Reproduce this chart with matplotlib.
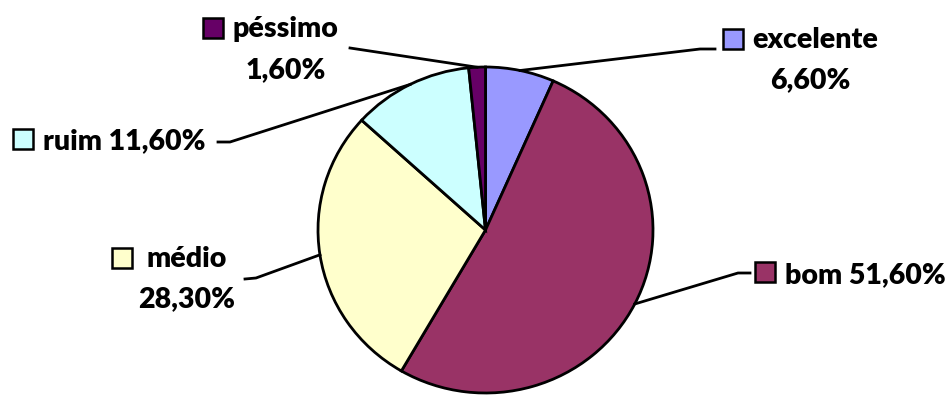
import matplotlib
matplotlib.use("Agg")
import matplotlib.pyplot as plt
import numpy as np
from matplotlib.lines import Line2D
from matplotlib.patches import Rectangle

# data
categories = ["excelente", "bom", "médio", "ruim", "péssimo"]
values = [6.6, 51.6, 28.3, 11.6, 1.6]
pct_labels = ["6,60%", "51,60%", "28,30%", "11,60%", "1,60%"]
colors = ["#9999FF", "#993366", "#FFFFCC", "#CCFFFF", "#660066"]

W, H = 951, 396
fig = plt.figure(figsize=(W / 100, H / 100), dpi=100)


def fx(x):
    return x / W


def fy(y):
    # image y (from top) -> figure fraction
    return 1 - y / H


# pie box in pixels: x 318..653, y 67..393
ax = fig.add_axes([fx(318), fy(393), (653 - 318) / W, (393 - 67) / H])
wedges, _ = ax.pie(values, colors=colors, startangle=90, counterclock=False,
                   wedgeprops=dict(edgecolor="black", linewidth=2))
ax.set_aspect("auto")
ax.set_xlim(-1, 1)
ax.set_ylim(-1, 1)
ax.axis("off")

fig.canvas.draw()
to_fig = fig.transFigure.inverted()


def edge_point(w):
    ang = np.deg2rad((w.theta1 + w.theta2) / 2)
    disp = ax.transData.transform((np.cos(ang), np.sin(ang)))
    return to_fig.transform(disp)


# leader lines: label-side points in image pixels, then pie edge
leaders = {
    "excelente": [(715, 49), (700, 49)],
    "bom": [(750, 273), (738, 273)],
    "médio": [(245, 279), (256, 278)],
    "ruim": [(218, 142), (230, 142)],
    "péssimo": [(350, 48)],
}
for w, cat in zip(wedges, categories):
    pts = [(fx(x), fy(y)) for x, y in leaders[cat]]
    pts.append(tuple(edge_point(w)))
    xs, ys = zip(*pts)
    fig.add_artist(Line2D(xs, ys, color="black", lw=2,
                          transform=fig.transFigure))

font = dict(family="Lato", weight="heavy", fontsize=20.5, color="black")


def key(x, y, c):
    # legend square, top-left in pixels
    fig.add_artist(Rectangle((fx(x), fy(y + 20)), 20 / W, 20 / H, facecolor=c,
                             edgecolor="black", lw=1.8,
                             transform=fig.transFigure))


# excelente
key(723, 29, colors[0])
fig.text(fx(752), fy(48), categories[0], **font)
fig.text(fx(810), fy(88), pct_labels[0], ha="center", **font)
# bom
key(755, 262, colors[1])
fig.text(fx(785), fy(283), categories[1] + " " + pct_labels[1], **font)
# médio
key(112, 248, colors[2])
fig.text(fx(147), fy(267), categories[2], **font)
fig.text(fx(187), fy(307), pct_labels[2], ha="center", **font)
# ruim
key(13, 129, colors[3])
fig.text(fx(43), fy(149), categories[3] + " " + pct_labels[3], **font)
# péssimo
key(203, 18, colors[4])
fig.text(fx(233), fy(37), categories[4], **font)
fig.text(fx(286), fy(78), pct_labels[4], ha="center", **font)

fig.savefig("out.png", dpi=100)
